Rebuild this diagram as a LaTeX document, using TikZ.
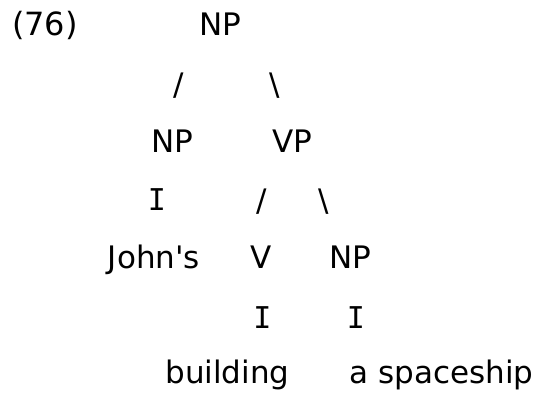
\documentclass[tikz,border=0pt]{standalone}
\usepackage{fontspec}
\setmainfont{DejaVu Sans}
\newfontfamily\barfont{DejaVu Sans Mono}
\tikzset{
  lbl/.style={inner sep=0pt, outer sep=0pt, anchor=base, font=\fontsize{31}{36}\selectfont},
  bar/.style={lbl, font=\fontsize{30}{36}\selectfont\barfont},
}
\begin{document}
\begin{tikzpicture}[x=1pt,y=-1pt]
\useasboundingbox[fill=white] (0,0) rectangle (537,394);
\node[lbl, font=\fontsize{32}{36}\selectfont] (num) at (45,35) {(76)};
\node[lbl] (np0) at (220.5,35) {NP};
\node[lbl] (s1) at (178.5,95) {/};
\node[lbl] (b1) at (274.5,95) {\textbackslash};
\node[lbl] (np1) at (172,152.5) {NP};
\node[lbl] (vp) at (292.5,152.5) {VP};
\node[bar] (i1) at (157,210) {I};
\node[lbl] (s2) at (261.5,211) {/};
\node[lbl] (b2) at (323.5,211) {\textbackslash};
\node[lbl] (john) at (154,268) {John\textquotesingle s};
\node[lbl] (v) at (261,268) {V};
\node[lbl] (np2) at (350,268) {NP};
\node[bar] (i2) at (262.5,328) {I};
\node[bar] (i3) at (356,328) {I};
\node[lbl] (bld) at (227.5,383) {building};
\node[lbl] (ship) at (441.5,383) {a spaceship};
\end{tikzpicture}
\end{document}
